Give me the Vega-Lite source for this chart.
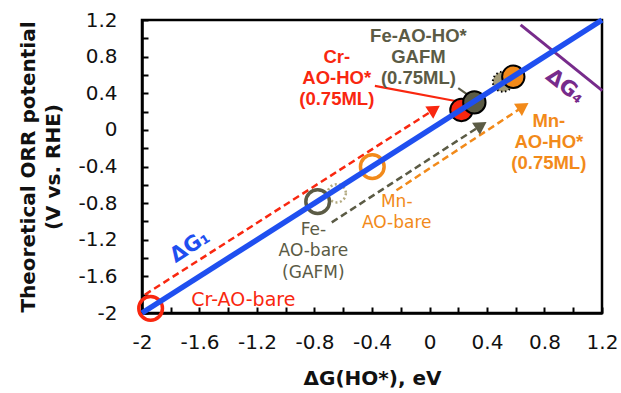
{
  "$schema": "https://vega.github.io/schema/vega-lite/v6.json",
  "width": 460,
  "height": 293,
  "autosize": {"type": "none"},
  "padding": {"left": 142, "top": 20, "right": 19, "bottom": 80},
  "background": "white",
  "config": {
    "view": {"stroke": "black", "strokeWidth": 2.5},
    "axis": {
      "grid": false,
      "domainColor": "black",
      "domainWidth": 2.5,
      "tickColor": "black",
      "tickWidth": 2,
      "tickSize": -6,
      "labelFont": "DejaVu Sans",
      "labelFontSize": 20,
      "labelColor": "#111",
      "titleFont": "DejaVu Sans",
      "titleFontSize": 20,
      "titleFontWeight": "bold",
      "titleColor": "#111"
    }
  },
  "encoding": {
    "x": {
      "field": "x", "type": "quantitative",
      "scale": {"domain": [-2, 1.2], "nice": false, "zero": false},
      "axis": {
        "values": [-2,-1.8,-1.6,-1.4,-1.2,-1,-0.8,-0.6,-0.4,-0.2,0,0.2,0.4,0.6,0.8,1,1.2],
        "labelExpr": "abs(round(datum.value*10))%4==0 ? (datum.value < 0 ? '-' : '') + format(abs(datum.value), '~g') : ''",
        "labelPadding": 25,
        "labelFlush": false,
        "labelOverlap": false,
        "title": "ΔG(HO*), eV",
        "titlePadding": 16
      }
    },
    "y": {
      "field": "y", "type": "quantitative",
      "scale": {"domain": [-2, 1.2], "nice": false, "zero": false},
      "axis": {
        "values": [-2,-1.8,-1.6,-1.4,-1.2,-1,-0.8,-0.6,-0.4,-0.2,0,0.2,0.4,0.6,0.8,1,1.2],
        "labelExpr": "abs(round(datum.value*10))%4==0 ? (datum.value < 0 ? '-' : '') + format(abs(datum.value), '~g') : ''",
        "labelPadding": 31,
        "labelFlush": false,
        "labelOverlap": false,
        "title": ["Theoretical ORR potential", "(V vs. RHE)"],
        "titleLineHeight": 25,
        "titlePadding": 14
      }
    }
  },
  "layer": [
    {
      "data": {"values": [
        {"series": "Cr", "x": -1.98, "y": -1.8, "x2": 0.03, "y2": 0.22},
        {"series": "Fe", "x": -0.68, "y": -1.01, "x2": 0.355, "y2": 0.045},
        {"series": "Mn", "x": -0.23, "y": -0.66, "x2": 0.648, "y2": 0.25}
      ]},
      "mark": {"type": "rule", "strokeWidth": 2.5, "strokeDash": [7, 4]},
      "encoding": {
        "x2": {"field": "x2"}, "y2": {"field": "y2"},
        "color": {"field": "series", "type": "nominal", "legend": null,
          "scale": {"domain": ["Cr", "Fe", "Mn"], "range": ["#f9270f", "#5b5b45", "#f28a1a"]}}
      }
    },
    {
      "data": {"values": [
        {"series": "Cr", "x": 0.035, "y": 0.225},
        {"series": "Fe", "x": 0.36, "y": 0.05},
        {"series": "Mn", "x": 0.652, "y": 0.255}
      ]},
      "mark": {"type": "point", "shape": "triangle-up", "filled": true, "opacity": 1, "size": 210, "angle": 57},
      "encoding": {
        "color": {"field": "series", "type": "nominal", "legend": null}
      }
    },
    {
      "data": {"values": [
        {"series": "Cr", "x": -0.38, "y": 0.48, "x2": 0.18, "y2": 0.315},
        {"series": "Fe", "x": 0.2, "y": 0.455, "x2": 0.26, "y2": 0.39}
      ]},
      "mark": {"type": "rule", "strokeWidth": 2.2},
      "encoding": {
        "x2": {"field": "x2"}, "y2": {"field": "y2"},
        "color": {"field": "series", "type": "nominal", "legend": null}
      }
    },
    {
      "data": {"values": [{"x": 0.634, "y": 1.146, "x2": 1.202, "y2": 0.428}]},
      "mark": {"type": "rule", "strokeWidth": 3, "color": "#772b8b"},
      "encoding": {"x2": {"field": "x2"}, "y2": {"field": "y2"}}
    },
    {
      "data": {"values": [{"x": -0.645, "y": -0.693}]},
      "mark": {"type": "point", "filled": false, "opacity": 1, "size": 330, "strokeWidth": 2.5, "strokeDash": [2, 2.5], "color": "#b3aa80"}
    },
    {
      "data": {"values": [{"x": 0.51, "y": 0.526}]},
      "mark": {"type": "point", "filled": true, "opacity": 1, "size": 400, "fill": "#a39b77", "stroke": "black", "strokeWidth": 2, "strokeDash": [1.5, 2.5]}
    },
    {
      "data": {"values": [
        {"series": "Cr", "x": 0.222, "y": 0.217},
        {"series": "Fe", "x": 0.312, "y": 0.3},
        {"series": "Mn", "x": 0.583, "y": 0.58}
      ]},
      "mark": {"type": "point", "filled": true, "opacity": 1, "size": 500, "stroke": "black", "strokeWidth": 2},
      "encoding": {
        "color": {"field": "series", "type": "nominal", "legend": null}
      }
    },
    {
      "data": {"values": [
        {"series": "Cr", "x": -1.94, "y": -1.95},
        {"series": "Fe", "x": -0.778, "y": -0.784},
        {"series": "Mn", "x": -0.398, "y": -0.402}
      ]},
      "mark": {"type": "point", "filled": false, "opacity": 1, "size": 560, "strokeWidth": 3.5},
      "encoding": {
        "color": {"field": "series", "type": "nominal", "legend": null}
      }
    },
    {
      "data": {"values": [{"x": -2, "y": -2, "x2": 1.2, "y2": 1.2}]},
      "mark": {"type": "rule", "strokeWidth": 5.5, "color": "#1f4ff0"},
      "encoding": {"x2": {"field": "x2"}, "y2": {"field": "y2"}}
    },
    {
      "data": {"values": [
        {"series": "Cr", "x": -0.645, "y": 0.799, "label": "Cr-\nAO-HO*\n(0.75ML)"},
        {"series": "Fe", "x": -0.077, "y": 1.029, "label": "Fe-AO-HO*\nGAFM\n(0.75ML)"},
        {"series": "Mn", "x": 0.83, "y": 0.093, "label": "Mn-\nAO-HO*\n(0.75ML)"}
      ]},
      "mark": {"type": "text", "font": "Liberation Sans", "fontWeight": "bold", "fontSize": 18.5, "lineBreak": "\n", "lineHeight": 21, "align": "center", "baseline": "middle"},
      "encoding": {
        "text": {"field": "label"},
        "color": {"field": "series", "type": "nominal", "legend": null}
      }
    },
    {
      "data": {"values": [
        {"series": "Fe", "x": -0.808, "y": -1.093, "label": "Fe-\nAO-bare\n(GAFM)"},
        {"series": "Mn", "x": -0.228, "y": -0.784, "label": "Mn-\nAO-bare"}
      ]},
      "mark": {"type": "text", "font": "DejaVu Sans", "fontSize": 17, "lineBreak": "\n", "lineHeight": 21.5, "align": "center", "baseline": "middle"},
      "encoding": {
        "text": {"field": "label"},
        "color": {"field": "series", "type": "nominal", "legend": null}
      }
    },
    {
      "data": {"values": [{"series": "Cr", "x": -1.295, "y": -1.858, "label": "Cr-AO-bare"}]},
      "mark": {"type": "text", "font": "DejaVu Sans", "fontSize": 19, "align": "center", "baseline": "middle"},
      "encoding": {
        "text": {"field": "label"},
        "color": {"field": "series", "type": "nominal", "legend": null}
      }
    },
    {
      "data": {"values": [{"x": -1.666, "y": -1.276, "label": "ΔG₁"}]},
      "mark": {"type": "text", "font": "DejaVu Sans", "fontWeight": "bold", "fontSize": 21, "angle": -33, "align": "center", "baseline": "middle", "color": "#1f4ff0"},
      "encoding": {"text": {"field": "label"}}
    },
    {
      "data": {"values": [{"x": 0.943, "y": 0.472, "label": "ΔG₄"}]},
      "mark": {"type": "text", "font": "DejaVu Sans", "fontWeight": "bold", "fontSize": 21, "angle": 38, "align": "center", "baseline": "middle", "color": "#772b8b"},
      "encoding": {"text": {"field": "label"}}
    }
  ]
}
